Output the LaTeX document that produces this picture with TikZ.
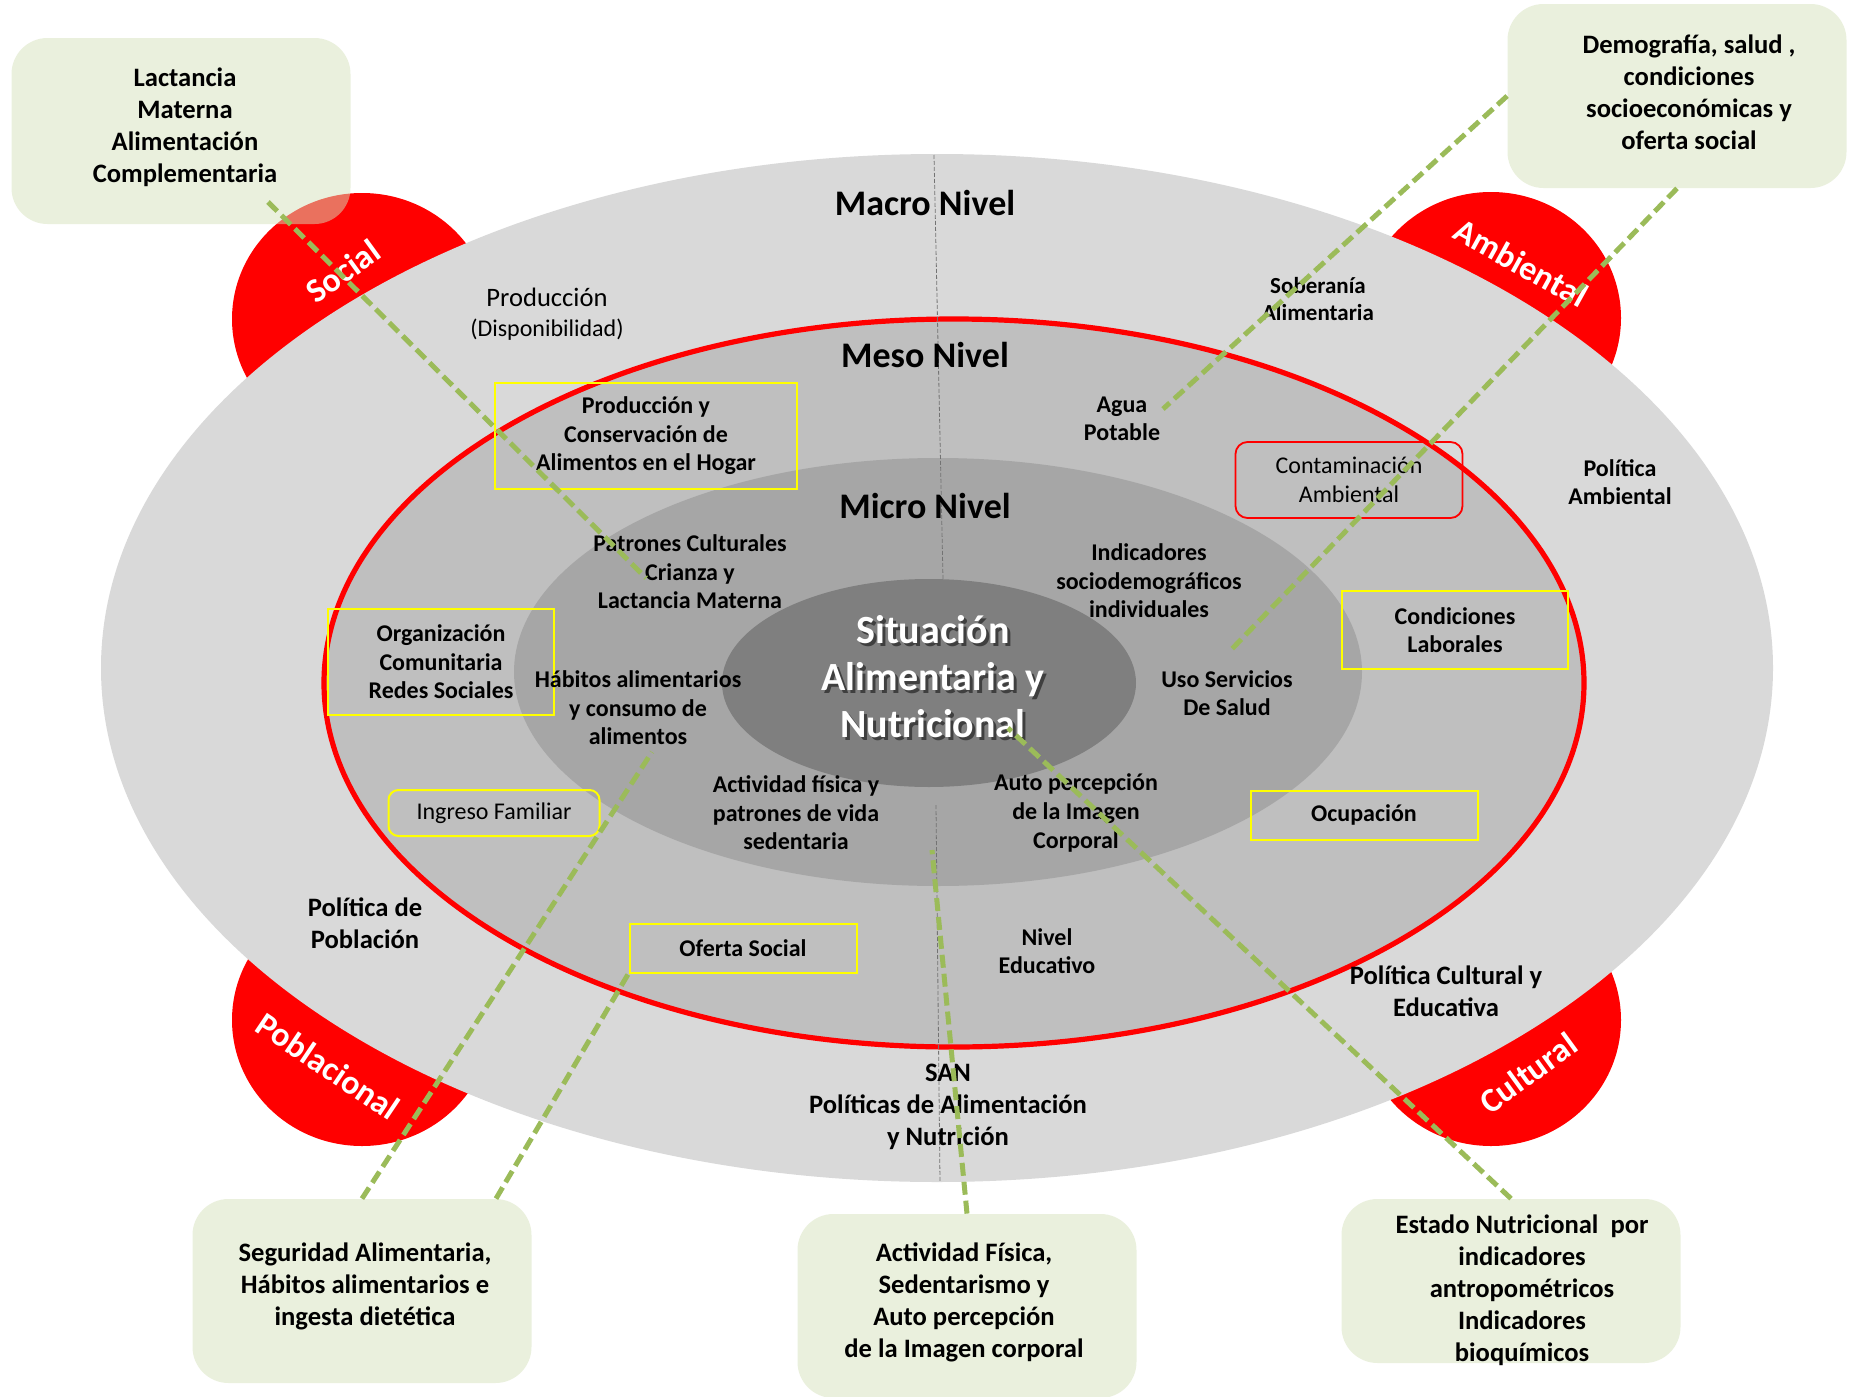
\documentclass[tikz,border=0pt]{standalone}
\usepackage{fontspec}
\setmainfont{Carlito}
\usetikzlibrary{calc}
\definecolor{macro}{HTML}{D9D9D9}
\definecolor{meso}{HTML}{BFBFBF}
\definecolor{micro}{HTML}{A6A6A6}
\definecolor{nucleo}{HTML}{7F7F7F}
\definecolor{verde}{HTML}{9BBB59}
\definecolor{caja}{RGB}{215,227,189}
\definecolor{amarillo}{HTML}{FFFF00}
\definecolor{rojo}{HTML}{FF0000}
\begin{document}
\begin{tikzpicture}[x=0.5pt,y=-0.5pt,
  every node/.style={font=\fontsize{12}{14.3}\selectfont\bfseries,align=center,inner sep=0pt},
  lvl/.style={font=\fontsize{18}{22}\selectfont\bfseries},
  pol/.style={font=\fontsize{13.3}{16}\selectfont\bfseries},
  fino/.style={font=\fontsize{12}{14.3}\selectfont},
  centro/.style={font=\fontsize{20}{23.5}\selectfont\bfseries},
  ring/.style={text=white,font=\fontsize{17}{20}\selectfont\bfseries},
  yel/.style={draw=amarillo,line width=1pt},
  nota/.style={fill=caja,fill opacity=0.5,text opacity=1,rounded corners=18pt,
    minimum width=169.5pt,font=\fontsize{13.3}{16}\selectfont\bfseries},
  enlace/.style={verde,line width=2.5pt,dash pattern=on 6.5pt off 3pt},
  eje/.style={black!55,line width=0.4pt,dash pattern=on 2pt off 1pt}]
 \path[use as bounding box,fill=white] (0,0) rectangle (1865,1397);
 \fill[rojo] (362,319) ellipse[x radius=65pt,y radius=63pt];
 \fill[rojo] (1491,318) ellipse[x radius=65pt,y radius=63pt];
 \fill[rojo] (362,1020) ellipse[x radius=65pt,y radius=63pt];
 \fill[rojo] (1491,1020) ellipse[x radius=65pt,y radius=63pt];
 \fill[macro] (937,668) ellipse[x radius=418pt,y radius=257pt];
 \filldraw[fill=meso,draw=rojo,line width=2.6pt] (954,683) ellipse[x radius=315pt,y radius=182pt];
 \fill[micro] (938,672) ellipse[x radius=212pt,y radius=107pt];
 \fill[nucleo] (929,683) ellipse[x radius=103.5pt,y radius=52pt];
 \draw[eje] (934,155) -- (943,579);
 \draw[eje] (936,805) -- (940,1182);

 \node[ring,rotate=36] (social) at (343,271) {Social};
 \node[ring,rotate=-29] (ambiental) at (1521,263) {Ambiental};
 \node[ring,rotate=-34] (poblacional) at (328,1066) {Poblacional};
 \node[ring,rotate=36] (cultural) at (1528,1073) {Cultural};

 \node[lvl] (macroniv) at (925,203) {Macro Nivel};
 \node[lvl] (mesoniv) at (925,355) {Meso Nivel};
 \node[lvl] (microniv) at (925,506) {Micro Nivel};
 \node[centro,text=black,opacity=0.5] (sombra) at (936,680) {Situación\\Alimentaria y\\Nutricional};
 \node[centro,text=white] (san) at (933,677) {Situación\\Alimentaria y\\Nutricional};

 \node[fino,font=\fontsize{13.3}{16}\selectfont] (prod) at (547,297) {Producción};
 \node[fino] (disp) at (547,330) {(Disponibilidad)};
 \node[font=\fontsize{11.5}{13.7}\selectfont\bfseries] (soberania) at (1318,299) {Soberanía\\Alimentaria};
 \node (agua) at (1122,419) {Agua\\Potable};
 \node (polamb) at (1620,482) {Política\\Ambiental};
 \node[yel,minimum width=151pt,minimum height=53pt] (prodhogar) at (646,436) {Producción y\\Conservación de\\Alimentos en el Hogar};
 \node[fino,draw=rojo,line width=0.9pt,rounded corners=6pt,minimum width=113.5pt,minimum height=38pt] (contam) at (1349,480) {Contaminación\\Ambiental};
 \node (patrones) at (690,572) {Patrones Culturales\\Crianza y\\Lactancia Materna};
 \node (indic) at (1149,581) {Indicadores\\sociodemográficos\\individuales};
 \node[yel,minimum width=113pt,minimum height=53pt] (organiz) at (441,662) {Organización\\Comunitaria\\Redes Sociales};
 \node (habitos) at (638,708) {Hábitos alimentarios\\y consumo de\\alimentos};
 \node (uso) at (1227,693) {Uso Servicios\\De Salud};
 \node[yel,minimum width=113pt,minimum height=39pt] (condic) at (1455,630) {Condiciones\\Laborales};
 \node[fino,yel,rounded corners=5pt,minimum width=105.5pt,minimum height=23pt] (ingreso) at (494,813) {Ingreso Familiar};
 \node (actividad) at (796,813) {Actividad física y\\patrones de vida\\sedentaria};
 \node (autoperc) at (1076,813) {Auto percepción\\de la Imagen\\Corporal};
 \node[yel,minimum width=113.5pt,minimum height=24.5pt] (ocup) at (1364,815) {Ocupación};
 \node[pol] (polpob) at (365,923) {Política de\\Población};
 \node[yel,minimum width=113.5pt,minimum height=24.5pt] (oferta) at (743,948) {Oferta Social};
 \node (niveledu) at (1047,951) {Nivel\\Educativo};
 \node[pol] (polcult) at (1446,991) {Política Cultural y\\Educativa};
 \node[pol] (polsan) at (948,1107) {SAN\\Políticas de Alimentación\\y Nutrición};

 \node[nota,minimum height=93pt] (lactancia) at (181,131) {};
 \node[pol] (lacttxt) at (185,127) {Lactancia\\Materna\\Alimentación\\Complementaria};
 \node[nota,minimum height=92pt] (demografia) at (1677,96) {};
 \node[pol] (demotxt) at (1689,92) {Demografía, salud ,\\condiciones\\socioeconómicas y\\oferta social};
 \node[nota,minimum height=92pt] (seguridad) at (362,1291) {};
 \node[pol] (segtxt) at (365,1286) {Seguridad Alimentaria,\\Hábitos alimentarios e\\ingesta dietética};
 \node[nota,minimum height=92pt] (actfis) at (967,1306) {};
 \node[pol] (actfistxt) at (964,1302) {Actividad Física,\\Sedentarismo y\\Auto percepción\\de la Imagen corporal};
 \node[nota,minimum height=82pt] (estado) at (1511,1281) {};
 \node[pol] (estadotxt) at (1522,1290) {Estado Nutricional\ \ por\\indicadores\\antropométricos\\Indicadores\\bioquímicos};

 \coordinate (lactini) at (268,202);
 \coordinate (lactfin) at (646,578);
 \coordinate (aguafin) at (1163,409);
 \coordinate (usofin) at (1229,652);
 \coordinate (habfin) at (652,752);
 \coordinate (segini) at ($(seguridad.north)+(134,0)$);
 \coordinate (actfin) at (932,850);
 \coordinate (estfin) at (1008,728);
 \draw[enlace] (lactini) -- (lactfin);
 \draw[enlace] (demografia.west) -- (aguafin);
 \draw[enlace] (demografia.south) -- (usofin);
 \draw[enlace] (seguridad.north) -- (habfin);
 \draw[enlace] (segini) -- (oferta.south west);
 \draw[enlace] (actfis.north) -- (actfin);
 \draw[enlace] (estado.north) -- (estfin);
\end{tikzpicture}
\end{document}
